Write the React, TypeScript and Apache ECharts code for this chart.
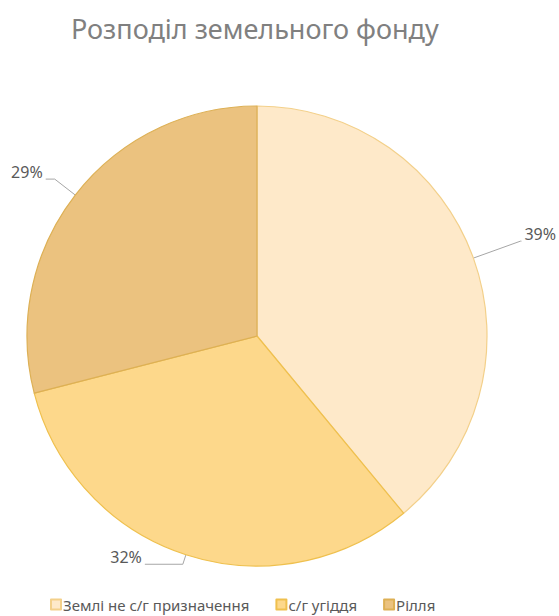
import React, { useEffect, useRef } from "react";
import * as echarts from "echarts";

const titleText = "Розподіл земельного фонду";
const categories = ["Землі не с/г призначення", "с/г угіддя", "Рілля"];
const values = [39, 32, 29];
const colors = ["#FEE9C9", "#FDD88B", "#EBC27F"];
const borders = ["#F3D08A", "#EFC04E", "#DDB055"];
const lineLengths = [
  [50, 1],
  [10, 38],
  [26, 9],
];

export default function App() {
  const ref = useRef<HTMLDivElement>(null);
  useEffect(() => {
    if (!ref.current) return;
    const chart = echarts.init(ref.current, undefined, { renderer: "svg" });
    const font = "'Noto Sans', sans-serif";
    chart.setOption({
      animation: false,
      backgroundColor: "#ffffff",
      title: {
        text: titleText,
        left: 66,
        top: 10,
        textStyle: {
          fontFamily: font,
          fontSize: 27,
          fontWeight: "normal",
          color: "#808080",
        },
      },
      legend: {
        bottom: -1,
        left: 45,
        icon: "rect",
        itemWidth: 10,
        itemHeight: 10,
        itemGap: 26,
        textStyle: { fontFamily: font, fontSize: 15, color: "#595959", padding: [0, 0, 0, -3] },
        data: categories,
      },
      series: [
        {
          type: "pie",
          center: [257, 336],
          radius: [0, 230],
          startAngle: 90,
          clockwise: true,
          label: {
            show: true,
            formatter: "{d}%",
            fontFamily: font,
            fontSize: 16,
            color: "#595959",
            distanceToLabelLine: 3,
            overflow: "none",
          },
          labelLayout: { dy: -7 },
          labelLine: {
            show: true,
            smooth: false,
            lineStyle: { color: "#A6A6A6", width: 1 },
          },
          data: categories.map((name, i) => ({
            name,
            value: values[i],
            itemStyle: { color: colors[i], borderColor: borders[i], borderWidth: 1.2 },
            labelLine: { length: lineLengths[i][0], length2: lineLengths[i][1] },
          })),
        },
      ],
    });
    return () => chart.dispose();
  }, []);
  return (
    <div
      ref={ref}
      style={{ position: "fixed", left: 0, top: 0, width: 559, height: 616 }}
    />
  );
}
